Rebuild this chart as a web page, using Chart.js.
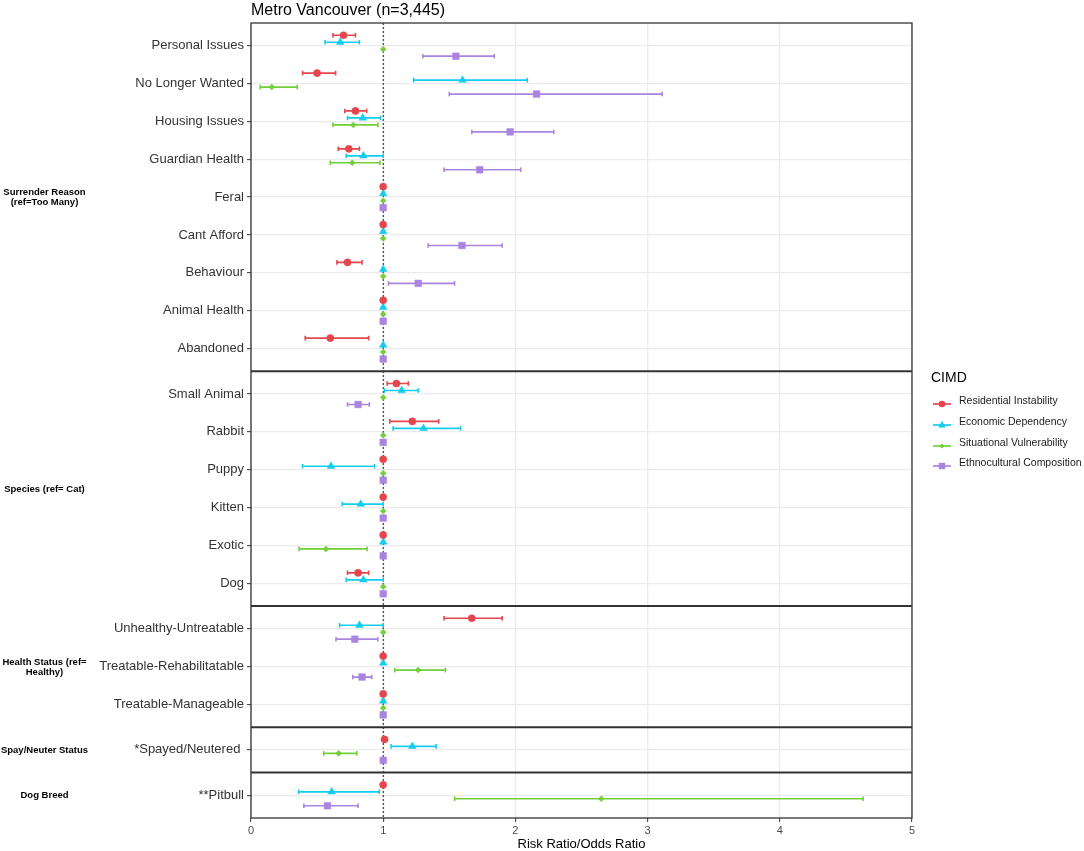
<!DOCTYPE html>
<html>
<head>
<meta charset="utf-8">
<script src="https://cdn.jsdelivr.net/npm/chart.js@4.4.0/dist/chart.umd.min.js"></script>
<style>
  html, body { margin: 0; padding: 0; background: #ffffff; }
  #wrap { position: relative; width: 1084px; height: 851px; font-family: "Liberation Sans", Arial, sans-serif; overflow: hidden; }
  #c { position: absolute; left: 0; top: 0; }
  .ov { position: absolute; white-space: nowrap; }
  #title { left: 251px; top: 0px; font-size: 16px; line-height: 20px; color: #000; }
  .strip { font-weight: bold; font-size: 9.5px; line-height: 10px; text-align: center; color: #000; transform: translate(-50%, -50%); }
  #legTitle { left: 931px; top: 368px; font-size: 14px; line-height: 18px; color: #000; }
  .legItem { font-size: 10.5px; line-height: 14px; color: #1a1a1a; transform: translateY(-50%); }
  .legKey { position: absolute; }
</style>
</head>
<body>
<div id="wrap">
  <canvas id="c" width="1084" height="851"></canvas>
  <div id="title" class="ov">Metro Vancouver (n=3,445)</div>
  <div id="legTitle" class="ov">CIMD</div>
</div>
<script>
// ---------------- DATA ----------------
const chartTitle = "Metro Vancouver (n=3,445)";
const xAxisTitle = "Risk Ratio/Odds Ratio";
const legendTitle = "CIMD";

const categories = [
  "Personal Issues", "No Longer Wanted", "Housing Issues", "Guardian Health", "Feral",
  "Cant Afford", "Behaviour", "Animal Health", "Abandoned",
  "Small Animal", "Rabbit", "Puppy", "Kitten", "Exotic", "Dog",
  "Unhealthy-Untreatable", "Treatable-Rehabilitatable", "Treatable-Manageable",
  "*Spayed/Neutered ",
  "**Pitbull"
];
const categoryGroup = [0,0,0,0,0,0,0,0,0, 1,1,1,1,1,1, 2,2,2, 3, 4];
const groupLabels = [
  ["Surrender Reason", "(ref=Too Many)"],
  ["Species (ref= Cat)"],
  ["Health Status (ref=", "Healthy)"],
  ["Spay/Neuter Status"],
  ["Dog Breed"]
];

const seriesNames = ["Residential Instability", "Economic Dependency", "Situational Vulnerability", "Ethnocultural Composition"];

const xTicks = [0, 1, 2, 3, 4, 5];

// Residential Instability
const resEst = [0.70, 0.50, 0.79, 0.74, 1.00, 1.00, 0.73, 1.00, 0.60, 1.10, 1.22, 1.00, 1.00, 1.00, 0.81, 1.67, 1.00, 1.00, 1.01, 1.00];
const resLo  = [0.62, 0.39, 0.71, 0.66, null, null, 0.65, null, 0.41, 1.03, 1.05, null, null, null, 0.73, 1.46, null, null, null, null];
const resHi  = [0.79, 0.64, 0.875,0.82, null, null, 0.84, null, 0.89, 1.19, 1.42, null, null, null, 0.89, 1.90, null, null, null, null];

// Economic Dependency
const ecoEst = [0.675,1.60, 0.845,0.85, 1.00, 1.00, 1.00, 1.00, 1.00, 1.14, 1.305,0.605,0.83, 1.00, 0.85, 0.82, 1.00, 1.00, 1.22, 0.61];
const ecoLo  = [0.56, 1.23, 0.73, 0.72, null, null, null, null, null, 1.01, 1.075,0.39, 0.69, null, 0.72, 0.67, null, null, 1.06, 0.36];
const ecoHi  = [0.82, 2.09, 0.98, 1.00, null, null, null, null, null, 1.265,1.586,0.935,1.00, null, 1.00, 1.00, null, null, 1.40, 0.97];

// Situational Vulnerability
const sitEst = [1.00, 0.157,0.774,0.766,1.00, 1.00, 1.00, 1.00, 1.00, 1.00, 1.00, 1.00, 1.00, 0.567,1.00, 1.00, 1.264,1.00, 0.663,2.65];
const sitLo  = [null, 0.07, 0.62, 0.60, null, null, null, null, null, null, null, null, null, 0.364,null, null, 1.087,null, 0.55, 1.54];
const sitHi  = [null, 0.35, 0.96, 0.976,null, null, null, null, null, null, null, null, null, 0.878,null, null, 1.471,null, 0.80, 4.63];

// Ethnocultural Composition
const ethEst = [1.55, 2.16, 1.96, 1.73, 1.00, 1.596,1.265,1.00, 1.00, 0.81, 1.00, 1.00, 1.00, 1.00, 1.00, 0.785,0.84, 1.00, 1.00, 0.578];
const ethLo  = [1.30, 1.50, 1.67, 1.46, null, 1.34, 1.04, null, null, 0.73, null, null, null, null, null, 0.643,0.77, null, null, 0.40];
const ethHi  = [1.84, 3.11, 2.29, 2.04, null, 1.90, 1.54, null, null, 0.895,null, null, null, null, null, 0.959,0.913,null, null, 0.81];

const referenceValue = 1;

// ---------------- STYLE / LAYOUT ----------------
const seriesColors = ["#E5464E", "#14CDEE", "#72CF3C", "#A985E0"];
const seriesShapes = ["circle", "triangle", "rectRot", "rect"];
const seriesRadius = [3.6, 4.4, 3, 4.7];
const dodge = [-0.277, -0.092, 0.092, 0.277];
const FONT = "'Liberation Sans', Arial, sans-serif";

const seriesData = [
  [resEst, resLo, resHi],
  [ecoEst, ecoLo, ecoHi],
  [sitEst, sitLo, sitHi],
  [ethEst, ethLo, ethHi]
];

// discrete positions with facet gaps (ggplot-like expansion 0.6 per panel side)
const pos = categories.map((c, i) => i + 0.6 + 0.2 * categoryGroup[i]);
const yEnd = pos[pos.length - 1] + 0.6;

// group extents
const groupInfo = groupLabels.map((lab, g) => {
  const idx = categories.map((c, i) => i).filter(i => categoryGroup[i] === g);
  const first = pos[idx[0]], last = pos[idx[idx.length - 1]];
  return { lab, top: first - 0.6, bottom: last + 0.6, center: (first + last) / 2 };
});

const datasets = [];
datasets.push({
  label: "ref",
  data: [{ x: referenceValue, y: 0 }, { x: referenceValue, y: yEnd }],
  showLine: true,
  borderColor: "#1a1a1a",
  borderWidth: 1,
  borderDash: [2, 2],
  pointRadius: 0,
  pointHoverRadius: 0,
  order: 10
});
seriesData.forEach(([est, lo, hi], s) => {
  const c = seriesColors[s];
  const bars = [];
  est.forEach((v, i) => {
    if (lo[i] != null && hi[i] != null) {
      const y = pos[i] + dodge[s];
      bars.push({ x: lo[i], y }, { x: hi[i], y }, { x: null, y: null });
    }
  });
  datasets.push({
    label: seriesNames[s] + " CI",
    data: bars,
    showLine: true,
    spanGaps: false,
    borderColor: c,
    borderWidth: 1.7,
    pointStyle: "line",
    rotation: 90,
    pointRadius: 2.3,
    pointHoverRadius: 2.3,
    pointBorderColor: c,
    pointBorderWidth: 1.6,
    order: 5
  });
  datasets.push({
    label: seriesNames[s],
    data: est.map((v, i) => ({ x: v, y: pos[i] + dodge[s] })),
    showLine: false,
    pointStyle: seriesShapes[s],
    pointRadius: seriesRadius[s],
    pointHoverRadius: seriesRadius[s],
    pointBackgroundColor: c,
    pointBorderColor: c,
    pointBorderWidth: 0.5,
    order: 1
  });
});

const panelPlugin = {
  id: "panels",
  afterDatasetsDraw(chart) {
    const { ctx, chartArea: a, scales: { y } } = chart;
    ctx.save();
    ctx.strokeStyle = "#333333";
    ctx.lineWidth = 2;
    groupInfo.slice(0, -1).forEach(g => {
      const py = y.getPixelForValue(g.bottom);
      ctx.beginPath();
      ctx.moveTo(a.left, py);
      ctx.lineTo(a.right, py);
      ctx.stroke();
    });
    ctx.lineWidth = 1.3;
    ctx.strokeRect(a.left, a.top, a.right - a.left, a.bottom - a.top);
    ctx.restore();
  },
  afterRender(chart) {
    if (chart.$overlayDone) return;
    chart.$overlayDone = true;
    const wrap = document.getElementById("wrap");
    const y = chart.scales.y;
    groupInfo.forEach(g => {
      const d = document.createElement("div");
      d.className = "ov strip";
      d.style.left = "44.5px";
      d.style.top = y.getPixelForValue(g.center) + "px";
      d.innerHTML = g.lab.join("<br>");
      wrap.appendChild(d);
    });
  }
};

new Chart(document.getElementById("c"), {
  type: "scatter",
  data: { datasets },
  options: {
    responsive: false,
    animation: false,
    events: [],
    layout: { padding: { top: 23, right: 172, bottom: 0, left: 0 } },
    plugins: { legend: { display: false }, tooltip: { enabled: false }, title: { display: false } },
    scales: {
      x: {
        type: "linear",
        min: 0, max: 5,
        afterBuildTicks: (scale) => { scale.ticks = xTicks.map(v => ({ value: v })); },
        afterFit: (scale) => { scale.height = 33; },
        border: { display: false },
        grid: { color: "#EBEBEB", lineWidth: 1.3, drawTicks: true, tickLength: 4, tickColor: "#333333", tickWidth: 1 },
        ticks: { color: "#4D4D4D", font: { family: FONT, size: 11 }, padding: 2, autoSkip: false, maxRotation: 0 },
        title: { display: true, text: xAxisTitle, color: "#000", font: { family: FONT, size: 13, lineHeight: 1 }, padding: { top: 0, bottom: 0 } }
      },
      y: {
        type: "linear",
        reverse: true,
        min: 0, max: yEnd,
        afterBuildTicks: (scale) => { scale.ticks = pos.map(v => ({ value: v })); },
        afterFit: (scale) => { scale.width = 251; },
        border: { display: false },
        grid: { color: "#EBEBEB", lineWidth: 1.3, drawTicks: true, tickLength: 4, tickColor: "#333333", tickWidth: 1 },
        ticks: {
          color: "#333333",
          font: { family: FONT, size: 13 },
          padding: 3,
          autoSkip: false,
          callback: (v, i) => categories[i]
        }
      }
    }
  },
  plugins: [panelPlugin]
});

// ---------------- LEGEND (HTML) ----------------
(function buildLegend() {
  const wrap = document.getElementById("wrap");
  document.getElementById("legTitle").textContent = legendTitle;
  document.getElementById("title").textContent = chartTitle;
  const rowY = [400.3, 421, 441.7, 462.3];
  seriesNames.forEach((name, s) => {
    const c = seriesColors[s];
    let mark = "";
    if (s === 0) mark = `<circle cx="9" cy="5" r="3.3" fill="${c}"/>`;
    if (s === 1) mark = `<polygon points="9,0.8 12.8,7.4 5.2,7.4" fill="${c}"/>`;
    if (s === 2) mark = `<polygon points="9,2.4 11.6,5 9,7.6 6.4,5" fill="${c}"/>`;
    if (s === 3) mark = `<rect x="5.8" y="1.8" width="6.4" height="6.4" fill="${c}"/>`;
    const key = document.createElement("div");
    key.className = "legKey";
    key.style.left = "933px";
    key.style.top = (rowY[s] - 5) + "px";
    key.innerHTML = `<svg width="18" height="10" viewBox="0 0 18 10"><line x1="0" y1="5" x2="18" y2="5" stroke="${c}" stroke-width="1.7"/>${mark}</svg>`;
    wrap.appendChild(key);
    const lab = document.createElement("div");
    lab.className = "ov legItem";
    lab.style.left = "959px";
    lab.style.top = rowY[s] + "px";
    lab.textContent = name;
    wrap.appendChild(lab);
  });
})();
</script>
</body>
</html>
